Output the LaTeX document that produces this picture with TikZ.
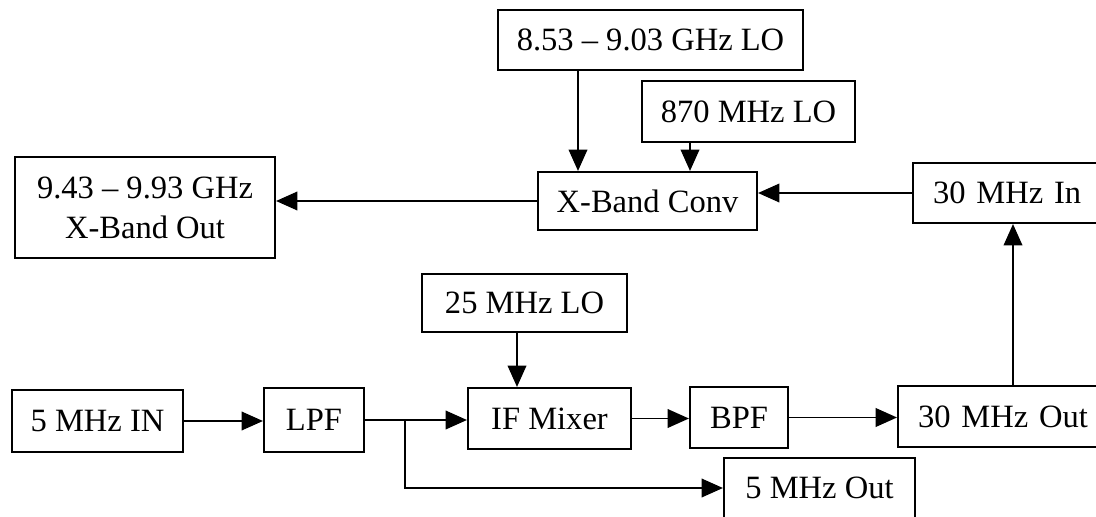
\documentclass[tikz,border=0pt]{standalone}
\usepackage{fontspec}
\setmainfont{Liberation Serif}
\usetikzlibrary{arrows.meta,calc}
\begin{document}
\begin{tikzpicture}[x=0.75pt,y=-0.75pt,
  box/.style={draw, line width=1.6pt, inner sep=0pt, align=center,
    font=\fontsize{24.4pt}{30pt}\selectfont},
  arr/.style={line width=1.2pt, -{Triangle[length=16pt,width=14pt]}}]
\useasboundingbox (0,0) rectangle (1096,517);
\clip (0,0) rectangle (1096,517);
\fill[white] (0,0) rectangle (1096,517);
% nodes
\node[box, minimum width=228.75pt, minimum height=45pt] (lo1) at (650.5,40) {8.53 – 9.03 GHz LO};
\node[box, minimum width=159.75pt, minimum height=45.75pt] (lo2) at (748.5,111.5) {870 MHz LO};
\node[box, minimum width=164.25pt, minimum height=43.5pt] (xconv) at (647.5,201) {X-Band Conv};
\node[box, minimum width=195pt, minimum height=75.75pt] (xout) at (145,207.5) {9.43 – 9.93 GHz\\X-Band Out};
\node[box, minimum height=45pt, inner xsep=15pt, text width=150pt, align=left, anchor=west] (in30) at (912,193) {30 MHz In};
\node[box, minimum width=153.75pt, minimum height=43.5pt] (lo25) at (524.5,303) {25 MHz LO};
\node[box, minimum width=128.25pt, minimum height=46.5pt] (in5) at (97.5,421) {5 MHz IN};
\node[box, minimum width=75pt, minimum height=48pt] (lpf) at (314,420) {LPF};
\node[box, minimum width=122.25pt, minimum height=45.75pt] (mix) at (549.5,418.5) {IF Mixer};
\node[box, minimum width=73.5pt, minimum height=45.75pt] (bpf) at (739,417.5) {BPF};
\node[box, minimum height=45.75pt, inner xsep=15pt, text width=150pt, align=left, anchor=west] (out30) at (897,416.5) {30 MHz Out};
\node[box, minimum width=143.25pt, minimum height=45pt] (out5) at (819.5,488) {5 MHz Out};
% helper coordinates
\coordinate (c1) at (578,0);
\coordinate (c2) at (690,0);
\coordinate (c3) at (517,0);
\coordinate (c4) at (1013,0);
\coordinate (br) at (405,420);
% connectors
\draw[arr] (lo1.south -| c1) -- (xconv.north -| c1);
\draw[arr] (lo2.south -| c2) -- (xconv.north -| c2);
\draw[arr] (in30.west) -- (in30.west -| xconv.east);
\draw[arr] (xconv.west) -- (xconv.west -| xout.east);
\draw[arr] (lo25.south -| c3) -- (mix.north -| c3);
\draw[arr] (in5.east) -- (in5.east -| lpf.west);
\draw[arr] (lpf.east) -- (lpf.east -| mix.west);
\draw[arr] (mix.east) -- (mix.east -| bpf.west);
\draw[arr] (bpf.east) -- (bpf.east -| out30.west);
\draw[arr] (br) |- (out5.west);
\draw[arr] (out30.north -| c4) -- (in30.south -| c4);
\end{tikzpicture}
\end{document}
